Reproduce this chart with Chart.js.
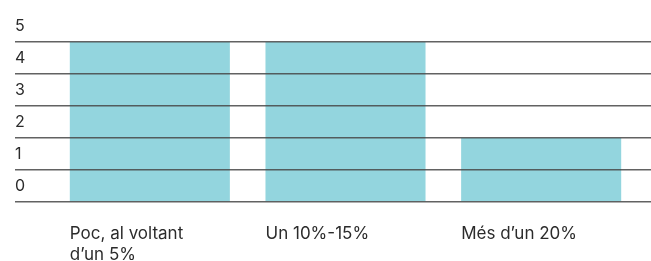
<!DOCTYPE html>
<html>
<head>
<meta charset="utf-8">
<script src="https://cdn.jsdelivr.net/npm/chart.js@4"></script>
<style>
    html, body { margin: 0; padding: 0; background: #fff; }
    #wrap { width: 651px; height: 261px; }
</style>
</head>
<body>
<div id="wrap"><canvas id="chart"></canvas></div>
<script>
// Dades del gràfic
const categories = [['Poc, al voltant', 'd\u2019un 5%'], 'Un 10%-15%', 'M\u00e9s d\u2019un 20%'];
const values = [5, 5, 2];
const yTicks = [0, 1, 2, 3, 4, 5];

const textColor = '#2b2b2b';
const gridColor = 'rgba(70, 70, 70, 0.85)';
const fontFamily = "Inter, 'Noto Sans', sans-serif";

const ctx = document.getElementById('chart').getContext('2d');

new Chart(ctx, {
    type: 'bar',
    data: {
        labels: categories,
        datasets: [{
            data: values,
            backgroundColor: '#93d5de',
            borderWidth: 0,
            barPercentage: 0.818,
            categoryPercentage: 1
        }]
    },
    options: {
        responsive: true,
        maintainAspectRatio: false,
        animation: false,
        layout: { padding: { left: 15, top: 42, right: 0, bottom: 0 } },
        plugins: {
            legend: { display: false },
            tooltip: { enabled: false }
        },
        scales: {
            x: {
                grid: { display: false },
                border: { display: false },
                // alçada fixa de l'eix i sense marges extra pels rètols
                afterFit: (scale) => {
                    scale.height = 59;
                    scale.paddingLeft = 0;
                    scale.paddingRight = 0;
                },
                ticks: {
                    color: textColor,
                    font: { family: fontFamily, size: 17, lineHeight: 1.235 },
                    align: 'start',
                    labelOffset: -80,
                    padding: 13,
                    maxRotation: 0,
                    autoSkip: false
                }
            },
            y: {
                min: 0,
                max: 5,
                afterBuildTicks: (scale) => { scale.ticks = yTicks.map(v => ({ value: v })); },
                afterFit: (scale) => { scale.width = 37; },
                grid: { color: gridColor, lineWidth: 1.5, tickLength: 37, z: 1 },
                border: { display: false },
                ticks: {
                    color: textColor,
                    font: { family: fontFamily, size: 16 },
                    crossAlign: 'far',
                    labelOffset: -16,
                    padding: 0
                }
            },
            y2: {
                position: 'right',
                min: 0,
                max: 5,
                afterBuildTicks: (scale) => { scale.ticks = yTicks.map(v => ({ value: v })); },
                afterFit: (scale) => { scale.width = 12; },
                grid: { color: gridColor, lineWidth: 1.5, tickLength: 12, drawOnChartArea: false },
                border: { display: false },
                ticks: { display: false }
            }
        }
    }
});
</script>
</body>
</html>
